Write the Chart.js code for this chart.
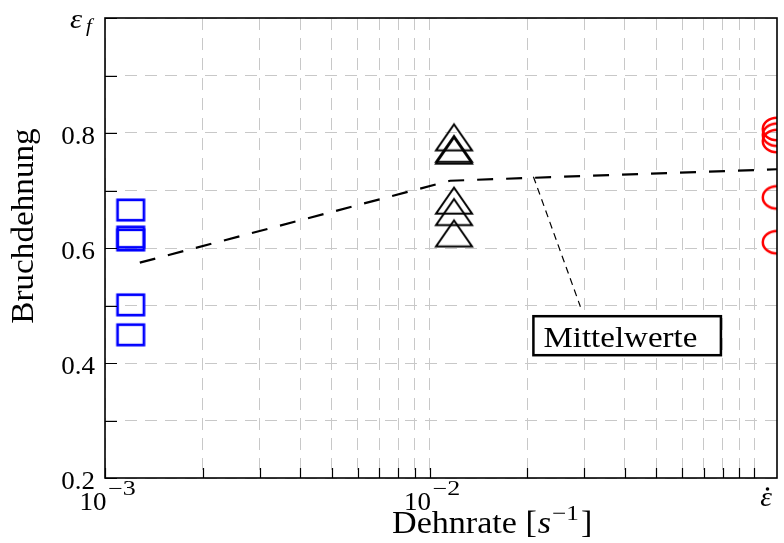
<!DOCTYPE html>
<html>
<head>
<meta charset="utf-8">
<script src="https://cdn.jsdelivr.net/npm/chart.js@4"></script>
<style>
  html, body { margin: 0; padding: 0; background: #fff; }
  #wrap { width: 784px; height: 543px; }
</style>
</head>
<body>
<div id="wrap"><canvas id="chart" width="784" height="543"></canvas></div>
<script>
// strain rate of each test series [1/s]
const rateLow = 1.2e-3;
const rateMid = 0.0119;
const rateHigh = 0.1177;

// elongation at break, one entry per specimen
const strainLow = [0.666, 0.619, 0.614, 0.501, 0.449];
const strainMid = [0.785, 0.765, 0.762, 0.675, 0.655, 0.618];
const strainHigh = [0.807, 0.797, 0.786, 0.688, 0.610];

// mean values per series
const meanRates = [1.28e-3, 0.01157, 0.1177];
const meanStrains = [0.5745, 0.717, 0.737];

// annotation anchor on the mean line
const noteRate = 0.0209;
const noteStrain = 0.724;
const noteText = 'Mittelwerte';

// axis ticks and labels
const xTicks = [0.001, 0.002, 0.003, 0.004, 0.005, 0.006, 0.007, 0.008, 0.009,
                0.01, 0.02, 0.03, 0.04, 0.05, 0.06, 0.07, 0.08, 0.09, 0.1];
const xTickExp = { 0.001: '−3', 0.01: '−2' };
const yTicks = [0.2, 0.3, 0.4, 0.5, 0.6, 0.7, 0.8, 0.9, 1.0];
const yTickLabels = { 0.2: '0.2', 0.4: '0.4', 0.6: '0.6', 0.8: '0.8' };

const FONT = '"Liberation Serif", "DejaVu Serif", serif';

// marker sprites (the marks are a bit wider than tall)
function sprite(w, h, draw) {
  const c = document.createElement('canvas');
  c.width = w;
  c.height = h;
  draw(c.getContext('2d'), w / 2, h / 2);
  return c;
}

const squareMark = sprite(34, 28, (g, cx, cy) => {
  g.strokeStyle = '#0000ff';
  g.lineWidth = 2.7;
  g.strokeRect(cx - 13.2, cy - 10.2, 26.4, 20.4);
});

const triangleMark = sprite(46, 42, (g, cx, cy) => {
  g.strokeStyle = '#000000';
  g.lineWidth = 2;
  g.lineJoin = 'miter';
  g.beginPath();
  g.moveTo(cx, cy - 17.3);
  g.lineTo(cx + 18, cy + 8.7);
  g.lineTo(cx - 18, cy + 8.7);
  g.closePath();
  g.stroke();
});

const circleMark = sprite(36, 30, (g, cx, cy) => {
  g.strokeStyle = '#ff0000';
  g.lineWidth = 2.5;
  g.beginPath();
  g.ellipse(cx, cy, 14.2, 11.3, 0, 0, Math.PI * 2);
  g.stroke();
});

function text(ctx, str, x, y, size, opts = {}) {
  const { align = 'left', italic = false, stretch = 1.1 } = opts;
  ctx.save();
  ctx.font = (italic ? 'italic ' : '') + size + 'px ' + FONT;
  ctx.textAlign = 'left';
  ctx.textBaseline = 'alphabetic';
  const w = ctx.measureText(str).width * stretch;
  let x0 = x;
  if (align === 'center') x0 = x - w / 2;
  else if (align === 'right') x0 = x - w;
  ctx.translate(x0, y);
  ctx.scale(stretch, 1);
  ctx.fillStyle = '#000';
  ctx.fillText(str, 0, 0);
  ctx.restore();
  return x0 + w;
}

const decorations = {
  id: 'decorations',
  afterDatasetsDraw(chart) {
    const { ctx, chartArea: a, scales: { x, y } } = chart;
    ctx.save();

    // frame
    ctx.strokeStyle = '#000';
    ctx.lineWidth = 1.6;
    ctx.strokeRect(a.left, a.top, a.right - a.left, a.bottom - a.top);

    // inward tick marks
    ctx.lineWidth = 1.2;
    ctx.beginPath();
    xTicks.forEach(v => {
      const px = Math.round(x.getPixelForValue(v)) + 0.5;
      ctx.moveTo(px, a.bottom);
      ctx.lineTo(px, a.bottom - 10);
    });
    yTicks.forEach(v => {
      const py = Math.round(y.getPixelForValue(v)) + 0.5;
      ctx.moveTo(a.left, py);
      ctx.lineTo(a.left + 12, py);
    });
    ctx.stroke();

    // y tick labels
    Object.keys(yTickLabels).forEach(k => {
      const py = y.getPixelForValue(Number(k));
      text(ctx, yTickLabels[k], a.left - 10, py + 10.5, 25, { align: 'right', stretch: 1.08 });
    });
    // epsilon_f at the top of the y axis
    text(ctx, 'ε', 70, 28, 28, { italic: true });
    text(ctx, 'f', 86, 32, 19, { italic: true });

    // x tick labels 10^n
    Object.keys(xTickExp).forEach(k => {
      const px = x.getPixelForValue(Number(k));
      text(ctx, '10', px + 1.5, 510, 25, { align: 'right', stretch: 1.08 });
      text(ctx, xTickExp[k], px + 3, 495, 20, { stretch: 1.3 });
    });
    // strain rate symbol at the right end
    const pr = a.right - 11;
    text(ctx, 'ε', pr, 506, 27, { align: 'center', italic: true });
    ctx.fillStyle = '#000';
    ctx.beginPath();
    ctx.arc(pr + 1.5, 489, 1.8, 0, Math.PI * 2);
    ctx.fill();

    // axis titles
    let cx = text(ctx, 'Dehnrate [', 392, 533, 31);
    cx = text(ctx, 's', cx + 1, 533, 31, { italic: true });
    cx = text(ctx, '−1', cx + 1, 520, 21, { stretch: 1.2 });
    text(ctx, ']', cx + 2, 533, 31);

    ctx.save();
    ctx.translate(33, 226);
    ctx.rotate(-Math.PI / 2);
    text(ctx, 'Bruchdehnung', 0, 0, 31, { align: 'center', stretch: 1.07 });
    ctx.restore();

    // annotation for the mean line
    const ax = x.getPixelForValue(noteRate);
    const ay = y.getPixelForValue(noteStrain);
    ctx.strokeStyle = '#000';
    ctx.lineWidth = 1.2;
    ctx.setLineDash([7, 5]);
    ctx.beginPath();
    ctx.moveTo(ax, ay);
    ctx.lineTo(ax + 47, ay + 130);
    ctx.stroke();
    ctx.setLineDash([]);

    const bx = ax, by = ay + 139.5, bw = 187.5, bh = 39;
    ctx.fillStyle = '#fff';
    ctx.fillRect(bx, by, bw, bh);
    ctx.lineWidth = 2.5;
    ctx.strokeRect(bx, by, bw, bh);
    text(ctx, noteText, bx + 10, by + 31, 30, { stretch: 1.1 });

    ctx.restore();
  }
};

const pts = (xs, ys) => ys.map((v, i) => ({ x: Array.isArray(xs) ? xs[i] : xs, y: v }));

new Chart(document.getElementById('chart'), {
  type: 'scatter',
  data: {
    datasets: [
      {
        data: pts(meanRates, meanStrains),
        showLine: true,
        borderColor: '#000',
        borderWidth: 2.2,
        borderDash: [16, 13],
        pointRadius: 0,
        clip: 0
      },
      { data: pts(rateLow, strainLow), pointStyle: squareMark, pointRadius: 10, clip: 0 },
      { data: pts(rateMid, strainMid), pointStyle: triangleMark, pointRadius: 10, clip: 0 },
      { data: pts(rateHigh, strainHigh), pointStyle: circleMark, pointRadius: 10, clip: 0 }
    ]
  },
  options: {
    responsive: false,
    animation: false,
    events: [],
    layout: { autoPadding: false, padding: { left: 105, right: 7, top: 18, bottom: 65 } },
    plugins: { legend: { display: false }, tooltip: { enabled: false } },
    scales: {
      x: {
        type: 'logarithmic',
        min: 0.001,
        max: rateHigh,
        afterBuildTicks: s => { s.ticks = xTicks.map(v => ({ value: v })); },
        ticks: { display: false },
        grid: { color: '#c8c8c8', lineWidth: 1, drawTicks: false },
        border: { display: false, dash: [12, 8] }
      },
      y: {
        min: 0.2,
        max: 1.0,
        afterBuildTicks: s => { s.ticks = yTicks.map(v => ({ value: v })); },
        ticks: { display: false },
        grid: { color: '#c8c8c8', lineWidth: 1, drawTicks: false },
        border: { display: false, dash: [12, 8] }
      }
    }
  },
  plugins: [decorations]
});
</script>
</body>
</html>
